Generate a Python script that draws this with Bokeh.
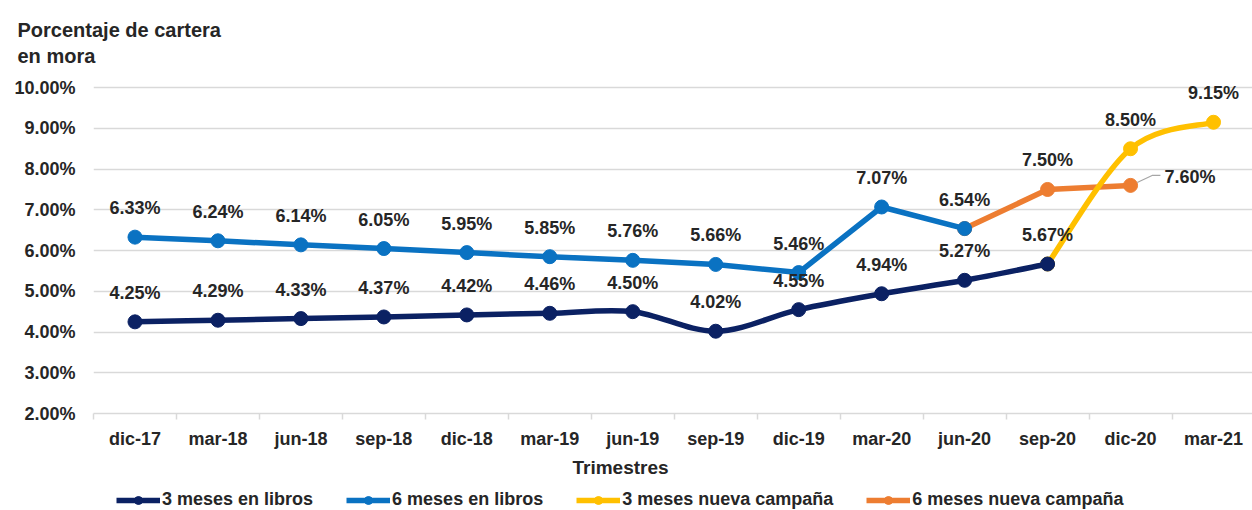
import math
from bokeh.plotting import figure
from bokeh.layouts import column
from bokeh.models import (Range1d, FixedTicker, PrintfTickFormatter, ColumnDataSource,
                          LabelSet, Legend, LegendItem, Title)
from bokeh.core.properties import value
from bokeh.embed import file_html
from bokeh.resources import INLINE

# ---------------- data ----------------
categories = ["dic-17", "mar-18", "jun-18", "sep-18", "dic-18", "mar-19", "jun-19",
              "sep-19", "dic-19", "mar-20", "jun-20", "sep-20", "dic-20", "mar-21"]
tres_meses_libros = [4.25, 4.29, 4.33, 4.37, 4.42, 4.46, 4.50, 4.02, 4.55, 4.94, 5.27, 5.67, None, None]
seis_meses_libros = [6.33, 6.24, 6.14, 6.05, 5.95, 5.85, 5.76, 5.66, 5.46, 7.07, 6.54, None, None, None]
tres_meses_nueva = [None] * 11 + [5.67, 8.50, 9.15]
seis_meses_nueva = [None] * 10 + [6.54, 7.50, 7.60, None]
y_ticks = [2, 3, 4, 5, 6, 7, 8, 9, 10]
series_names = ["3 meses en libros", "6 meses en libros",
                "3 meses nueva campaña", "6 meses nueva campaña"]
title_text = "Porcentaje de cartera\nen mora"
x_title = "Trimestres"

# ---------------- style ----------------
FONT = "Liberation Sans"
TXT = "#262626"
GRID = "#D9D9D9"
NAVY = "#0B2163"
BLUE = "#0A72C2"
YELLOW = "#FFC000"
ORANGE = "#ED7D31"
COLORS = [NAVY, BLUE, YELLOW, ORANGE]
LW = 5.5
MS = 14

p = figure(width=1252, height=480, output_backend="svg", toolbar_location=None,
           x_range=Range1d(-0.5, 13.47), y_range=Range1d(2, 10.2),
           min_border_left=93, min_border_right=0, min_border_top=79, min_border_bottom=66)
p.outline_line_color = None
p.background_fill_color = "white"
p.border_fill_color = "white"

# title (two lines, top-left)
p.title.text = title_text
p.title.align = "left"
p.title.vertical_align = "top"
p.title.offset = -76
p.title.standoff = 22
p.title.text_font = FONT
p.title.text_font_size = "20px"
p.title.text_font_style = "bold"
p.title.text_color = TXT
p.title.text_line_height = 1.2

# axes
p.xaxis.ticker = FixedTicker(ticks=list(range(len(categories))),
                             minor_ticks=[i - 0.5 for i in range(len(categories) + 1)])
p.xaxis.major_label_overrides = {i: c for i, c in enumerate(categories)}
p.xaxis.axis_line_color = GRID
p.xaxis.axis_line_width = 1.5
p.xaxis.major_tick_line_color = None
p.xaxis.major_tick_out = 0
p.xaxis.major_tick_in = 0
p.xaxis.minor_tick_line_color = GRID
p.xaxis.minor_tick_line_width = 1.5
p.xaxis.minor_tick_out = 6
p.xaxis.minor_tick_in = 0
p.xaxis.major_label_standoff = 9
p.xaxis.major_label_text_font = FONT
p.xaxis.major_label_text_font_size = "18px"
p.xaxis.major_label_text_font_style = "bold"
p.xaxis.major_label_text_color = TXT

p.yaxis.ticker = FixedTicker(ticks=y_ticks)
p.yaxis.formatter = PrintfTickFormatter(format="%.2f%%")
p.yaxis.axis_line_color = None
p.yaxis.major_tick_line_color = None
p.yaxis.minor_tick_line_color = None
p.yaxis.major_tick_out = 0
p.yaxis.major_tick_in = 0
p.yaxis.major_label_standoff = 18
p.yaxis.major_label_text_font = FONT
p.yaxis.major_label_text_font_size = "18px"
p.yaxis.major_label_text_font_style = "bold"
p.yaxis.major_label_text_color = TXT

p.xgrid.grid_line_color = None
p.ygrid.grid_line_color = GRID
p.ygrid.grid_line_width = 1.5


def valid(vals):
    return [(i, v) for i, v in enumerate(vals) if v is not None]


def smooth_segments(vals):
    """Bezier control points (Excel-style smoothing) for consecutive data points."""
    pts = valid(vals)
    xs = [float(i) for i, _ in pts]
    ys = [float(v) for _, v in pts]
    n = len(pts)
    seg = dict(x0=[], y0=[], x1=[], y1=[], cx0=[], cy0=[], cx1=[], cy1=[])
    for k in range(n - 1):
        km = max(k - 1, 0)
        kp = min(k + 2, n - 1)
        seg["x0"].append(xs[k]); seg["y0"].append(ys[k])
        seg["x1"].append(xs[k + 1]); seg["y1"].append(ys[k + 1])
        seg["cx0"].append(xs[k] + (xs[k + 1] - xs[km]) / 6.0)
        seg["cy0"].append(ys[k] + (ys[k + 1] - ys[km]) / 6.0)
        seg["cx1"].append(xs[k + 1] - (xs[kp] - xs[k]) / 6.0)
        seg["cy1"].append(ys[k + 1] - (ys[kp] - ys[k]) / 6.0)
    return ColumnDataSource(seg)


def pts_source(vals):
    pts = valid(vals)
    return ColumnDataSource(dict(x=[i for i, _ in pts], y=[v for _, v in pts]))


srcs = [pts_source(v) for v in (tres_meses_libros, seis_meses_libros, tres_meses_nueva, seis_meses_nueva)]

# 6 meses nueva campaña (straight)
p.line("x", "y", source=srcs[3], line_color=ORANGE, line_width=LW, line_join="round", line_cap="round")
p.scatter("x", "y", source=srcs[3], size=MS, fill_color=ORANGE, line_color=ORANGE)

# 3 meses nueva campaña (smoothed)
p.bezier(x0="x0", y0="y0", x1="x1", y1="y1", cx0="cx0", cy0="cy0", cx1="cx1", cy1="cy1",
         source=smooth_segments(tres_meses_nueva), line_color=YELLOW, line_width=LW, line_cap="round")
p.scatter("x", "y", source=srcs[2], size=MS, fill_color=YELLOW, line_color=YELLOW)

# 6 meses en libros (straight)
p.line("x", "y", source=srcs[1], line_color=BLUE, line_width=LW, line_join="round", line_cap="round")
p.scatter("x", "y", source=srcs[1], size=MS, fill_color=BLUE, line_color=BLUE)

# 3 meses en libros (smoothed)
p.bezier(x0="x0", y0="y0", x1="x1", y1="y1", cx0="cx0", cy0="cy0", cx1="cx1", cy1="cy1",
         source=smooth_segments(tres_meses_libros), line_color=NAVY, line_width=LW, line_cap="round")
p.scatter("x", "y", source=srcs[0], size=MS, fill_color=NAVY, line_color=NAVY)

# ---------------- data labels ----------------
lx, ly, lt, xo, yo, al = [], [], [], [], [], []
special = {("6n", 12): (34, 8, "left")}   # label placed to the right with a leader line
for key, vals, skip_first in (("3l", tres_meses_libros, False), ("6l", seis_meses_libros, False),
                              ("3n", tres_meses_nueva, True), ("6n", seis_meses_nueva, True)):
    pts = valid(vals)
    if skip_first:
        pts = pts[1:]
    for i, v in pts:
        dx, dy, a = special.get((key, i), (0, 29, "center"))
        lx.append(i); ly.append(v); lt.append("%.2f%%" % v)
        xo.append(dx); yo.append(dy); al.append(a)

lab_src = ColumnDataSource(dict(x=lx, y=ly, t=lt, xo=xo, yo=yo, al=al))
p.add_layout(LabelSet(x="x", y="y", text="t", source=lab_src, x_offset="xo", y_offset="yo",
                      text_align="al", text_baseline="middle",
                      text_font=value(FONT), text_font_size=value("18px"),
                      text_font_style=value("bold"), text_color=value(TXT)))

# leader line for the label placed to the right
for (key, i), _ in special.items():
    v = seis_meses_nueva[i]
    p.line([i + 0.08, i + 0.26, i + 0.36], [v + 0.07, v + 0.245, v + 0.245],
           line_color="#A6A6A6", line_width=1.2)

# ---------------- x-axis title (below) ----------------
p.add_layout(Title(text=x_title, align="left", offset=479, standoff=6,
                   text_font=FONT, text_font_size="19px", text_font_style="bold",
                   text_color=TXT), "below")

# ---------------- legend strip (separate figure under the chart) ----------------
lg = figure(width=1252, height=30, output_backend="svg", toolbar_location=None,
            x_range=Range1d(0, 1), y_range=Range1d(0, 1),
            x_axis_type=None, y_axis_type=None,
            min_border_left=0, min_border_right=0, min_border_top=0, min_border_bottom=0)
lg.outline_line_color = None
lg.background_fill_color = "white"
lg.border_fill_color = "white"
items = []
for k in range(4):
    # series data lies outside this strip's ranges, so only the legend glyphs show
    lr = lg.line("x", "y", source=srcs[k], line_color=COLORS[k], line_width=LW)
    sr = lg.scatter("x", "y", source=srcs[k], size=MS, fill_color=COLORS[k], line_color=COLORS[k])
    items.append(LegendItem(label=series_names[k], renderers=[lr, sr]))
legend = Legend(items=items, orientation="horizontal", location=(23, 0),
                glyph_width=44, glyph_height=20, label_standoff=2, spacing=33,
                padding=0, margin=0, border_line_color=None, background_fill_alpha=0,
                label_text_font=FONT, label_text_font_size="18px", label_text_font_style="bold",
                label_text_color=TXT)
lg.add_layout(legend)

layout = column(p, lg, spacing=0)
open("out.html", "w").write(file_html(layout, INLINE))
